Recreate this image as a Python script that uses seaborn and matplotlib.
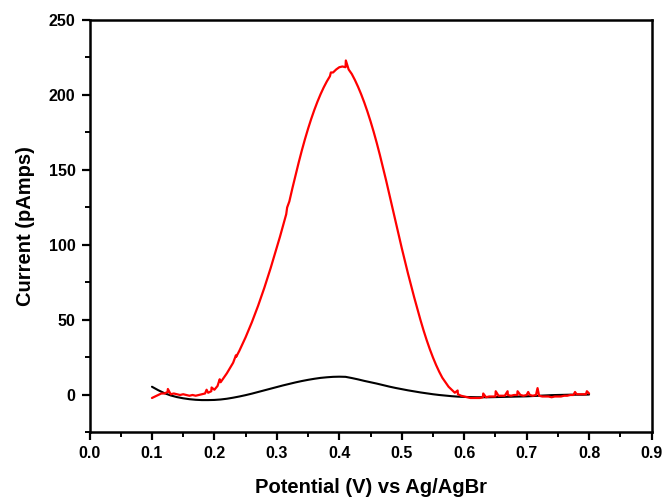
import numpy as np
import pandas as pd
import matplotlib
matplotlib.use("Agg")
import matplotlib.pyplot as plt
import seaborn as sns
from matplotlib.ticker import MultipleLocator

# ---------------- data ----------------
# red trace, sampled every 0.005 V from 0.100 to 0.800 V
red_x = [round(0.1 + 0.005 * i, 3) for i in range(141)]
red_y = [
    -2.0, -1.0, 0.0, 1.0, 1.0, 2.0, 0.5, 1.0, 0.5, 0.0,          # 0.100-0.145
    0.5, 0.0, -0.5, 0.0, -0.5, 0.0, 0.5, 1.0, 1.5, 2.5,          # 0.150-0.195
    3.5, 6.0, 8.5, 11.5, 14.5, 18.0, 21.5, 25.5, 29.5, 34.0,     # 0.200-0.245
    38.5, 43.5, 48.5, 54.0, 59.5, 65.5, 71.5, 78.0, 84.5, 91.5,  # 0.250-0.295
    98.5, 105.5, 113.0, 120.5, 129.0, 138.0, 146.5, 155.0, 163.0, 170.5,  # 0.300-0.345
    177.5, 184.0, 190.0, 195.5, 200.5, 205.0, 209.0, 212.5, 215.0, 217.0,  # 0.350-0.395
    218.5, 219.0, 218.5, 217.0, 214.0, 210.0, 205.5, 200.5, 195.0, 189.0,  # 0.400-0.445
    182.5, 175.5, 168.0, 160.0, 151.5, 143.0, 134.0, 125.0, 116.0, 107.0,  # 0.450-0.495
    98.0, 89.5, 81.0, 73.0, 65.0, 57.5, 50.0, 43.0, 36.5, 30.5,  # 0.500-0.545
    25.0, 20.0, 15.5, 11.5, 8.5, 5.5, 3.5, 1.5, 0.5, -0.5,       # 0.550-0.595
    -1.0, -1.5, -2.0, -2.0, -2.0, -2.0, -1.5, -1.5, -1.0, -1.0,  # 0.600-0.645
    -1.0, -0.5, -0.5, -0.5, 0.0, -0.5, 0.0, 0.0, 0.0, -0.5,      # 0.650-0.695
    0.0, 0.0, -0.5, 0.0, -0.5, -1.0, -1.0, -1.0, -1.5, -1.0,     # 0.700-0.745
    -1.0, -1.0, -0.5, -0.5, 0.0, 0.0, 0.5, 0.5, 0.5, 0.5,        # 0.750-0.795
    1.0,                                                          # 0.800
]
# narrow noise spikes on the red trace
spike_x = [0.1255, 0.1875, 0.1955, 0.2085, 0.2345, 0.3165, 0.3865, 0.4105,
           0.4715, 0.5895, 0.6305, 0.6505, 0.6695, 0.6855, 0.7025, 0.7175,
           0.7775, 0.7965]
spike_y = [4.0, 3.5, 5.0, 10.5, 26.5, 125.0, 215.0, 223.0,
           149.0, 3.0, 1.0, 2.5, 2.5, 2.5, 2.0, 4.6,
           2.0, 2.5]

# black trace, sampled every 0.01 V from 0.10 to 0.80 V
black_x = [round(0.1 + 0.01 * i, 2) for i in range(71)]
black_y = [
    5.5, 3.2, 1.2, -0.3, -1.4, -2.2, -2.8, -3.2, -3.4, -3.4,     # 0.10-0.19
    -3.3, -3.0, -2.5, -1.8, -1.0, -0.1, 0.9, 2.0, 3.1, 4.2,      # 0.20-0.29
    5.3, 6.4, 7.4, 8.4, 9.3, 10.1, 10.8, 11.4, 11.8, 12.1,       # 0.30-0.39
    12.2, 12.1, 11.3, 10.4, 9.4, 8.5, 7.6, 6.6, 5.6, 4.7,        # 0.40-0.49
    3.9, 3.1, 2.4, 1.7, 1.1, 0.5, 0.0, -0.4, -0.8, -1.1,         # 0.50-0.59
    -1.3, -1.4, -1.5, -1.5, -1.5, -1.4, -1.3, -1.2, -1.1, -1.0,  # 0.60-0.69
    -0.9, -0.7, -0.5, -0.3, -0.1, 0.0, 0.1, 0.2, 0.2, 0.2,       # 0.70-0.79
    0.3,                                                          # 0.80
]

x_ticks = [0.0, 0.1, 0.2, 0.3, 0.4, 0.5, 0.6, 0.7, 0.8, 0.9]
y_ticks = [0, 50, 100, 150, 200, 250]
x_label = "Potential (V) vs Ag/AgBr"
y_label = "Current (pAmps)"

# ---------------- build tables ----------------
red_df = pd.DataFrame({"x": red_x + spike_x, "y": red_y + spike_y}).sort_values("x")
black_df = pd.DataFrame({"x": black_x, "y": black_y})

# ---------------- plot ----------------
sns.set_theme(style="white")
plt.rcParams["font.family"] = ["Liberation Sans", "DejaVu Sans"]
plt.rcParams["font.weight"] = "bold"
plt.rcParams["text.color"] = "black"
plt.rcParams["axes.labelcolor"] = "black"
plt.rcParams["xtick.color"] = "black"
plt.rcParams["ytick.color"] = "black"

fig = plt.figure(figsize=(6.64, 4.97), dpi=100)
ax = fig.add_axes([0.1348, 0.1298, 0.8464, 0.8300])

sns.lineplot(data=black_df, x="x", y="y", ax=ax, color="black",
             linewidth=1.5, estimator=None, sort=False)
sns.lineplot(data=red_df, x="x", y="y", ax=ax, color="#ff0000",
             linewidth=1.6, estimator=None, sort=False)

ax.set_xlim(0.0, 0.9)
ax.set_ylim(-25, 250)
ax.set_xticks(x_ticks)
ax.set_xticklabels([f"{t:.1f}" for t in x_ticks])
ax.set_yticks(y_ticks)
ax.xaxis.set_minor_locator(MultipleLocator(0.05))
ax.yaxis.set_minor_locator(MultipleLocator(25))

for s in ax.spines.values():
    s.set_color("black")
    s.set_linewidth(1.8)

ax.tick_params(axis="both", which="major", direction="out", length=6, width=1.6,
               labelsize=11.5, pad=4, colors="black", labelcolor="black",
               bottom=True, left=True, top=False, right=False)
ax.tick_params(axis="both", which="minor", direction="out", length=3.5, width=1.4,
               colors="black", bottom=True, left=True, top=False, right=False)
for lab in ax.get_xticklabels() + ax.get_yticklabels():
    lab.set_fontweight("bold")

ax.set_xlabel(x_label, fontsize=14.5, fontweight="bold", labelpad=12, color="black")
ax.set_ylabel(y_label, fontsize=14.5, fontweight="bold", labelpad=10, color="black")
ax.grid(False)

fig.savefig("out.png", dpi=100, facecolor="white")
